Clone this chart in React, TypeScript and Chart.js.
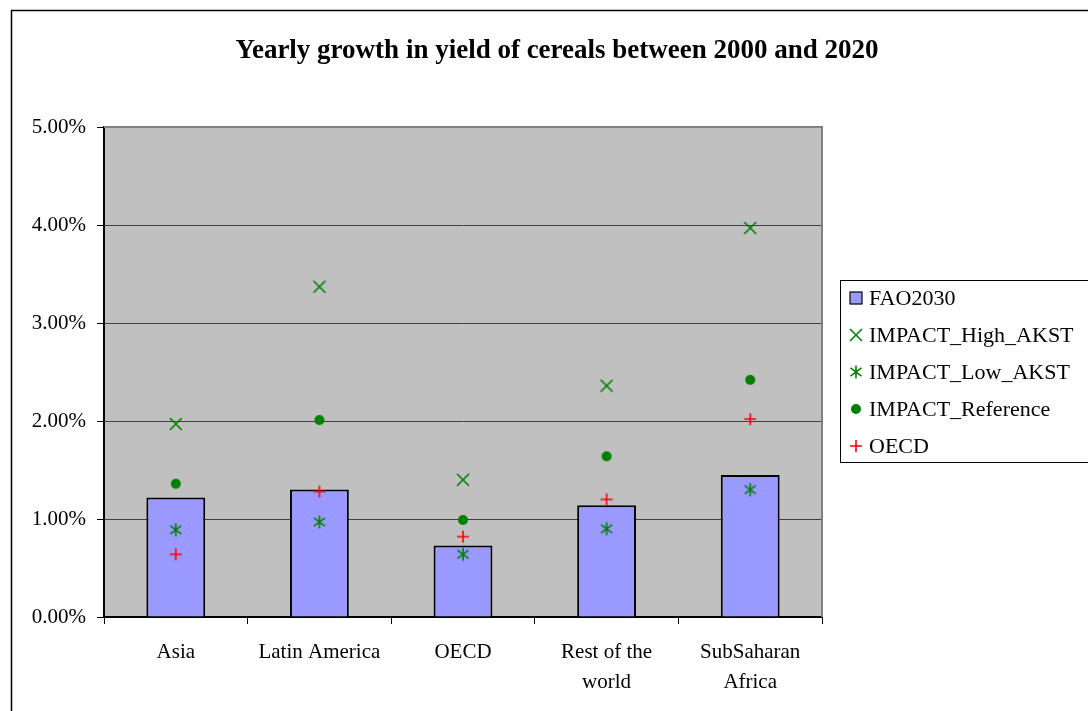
import React, { useEffect, useRef } from "react";
import { Chart, registerables } from "chart.js";

Chart.register(...registerables);

const TITLE = "Yearly growth in yield of cereals between 2000 and 2020";
const categories: (string | string[])[] = [
  "Asia",
  "Latin America",
  "OECD",
  ["Rest of the", "world"],
  ["SubSaharan", "Africa"],
];
const fao2030 = [0.0122, 0.013, 0.0073, 0.0114, 0.0145];
const impactHigh = [0.0197, 0.0337, 0.014, 0.0236, 0.0397];
const impactLow = [0.0089, 0.0097, 0.0064, 0.009, 0.013];
const impactRef = [0.0136, 0.0201, 0.0099, 0.0164, 0.0242];
const oecd = [0.0064, 0.0128, 0.0082, 0.012, 0.0202];
const yTicks = [0, 0.01, 0.02, 0.03, 0.04, 0.05];

const SERIF = "'Liberation Serif', 'Times New Roman', serif";
const GREEN = "#008000";
const RED = "#ff0000";
const BAR_FILL = "#9999ff";

function makeMarker(kind: string): HTMLCanvasElement {
  const s = 16;
  const c = document.createElement("canvas");
  c.width = s;
  c.height = s;
  const g = c.getContext("2d")!;
  const m = s / 2;
  g.lineWidth = 1.6;
  g.lineCap = "butt";
  if (kind === "x") {
    g.strokeStyle = GREEN;
    const d = 6;
    g.beginPath();
    g.moveTo(m - d, m - d);
    g.lineTo(m + d, m + d);
    g.moveTo(m + d, m - d);
    g.lineTo(m - d, m + d);
    g.stroke();
  } else if (kind === "ast") {
    g.strokeStyle = GREEN;
    const d = 5.5;
    g.beginPath();
    g.moveTo(m - d, m - d * 0.75);
    g.lineTo(m + d, m + d * 0.75);
    g.moveTo(m + d, m - d * 0.75);
    g.lineTo(m - d, m + d * 0.75);
    g.moveTo(m, m - 6.5);
    g.lineTo(m, m + 6.5);
    g.stroke();
  } else if (kind === "dot") {
    g.fillStyle = GREEN;
    g.beginPath();
    g.arc(m, m, 5, 0, Math.PI * 2);
    g.fill();
  } else if (kind === "plus") {
    g.strokeStyle = RED;
    const d = 6;
    g.beginPath();
    g.moveTo(m - d, m);
    g.lineTo(m + d, m);
    g.moveTo(m, m - d);
    g.lineTo(m, m + d);
    g.stroke();
  }
  return c;
}

export default function App() {
  const ref = useRef<HTMLCanvasElement | null>(null);

  useEffect(() => {
    const canvas = ref.current;
    if (!canvas) return;
    const markers = {
      x: makeMarker("x"),
      ast: makeMarker("ast"),
      dot: makeMarker("dot"),
      plus: makeMarker("plus"),
    };

    const framePlugin = {
      id: "frame",
      beforeDraw(chart: any) {
        const ctx = chart.ctx;
        const a = chart.chartArea;
        ctx.save();
        ctx.fillStyle = "#ffffff";
        ctx.fillRect(0, 0, chart.width, chart.height);
        ctx.strokeStyle = "#000000";
        ctx.lineWidth = 1.5;
        ctx.strokeRect(11.5, 10.5, chart.width + 20, chart.height + 20);
        ctx.fillStyle = "#c0c0c0";
        ctx.fillRect(a.left, a.top, a.right - a.left, a.bottom - a.top);
        ctx.restore();
      },
      afterDraw(chart: any) {
        const ctx = chart.ctx;
        const a = chart.chartArea;
        ctx.save();
        ctx.strokeStyle = "#808080";
        ctx.lineWidth = 2;
        ctx.beginPath();
        ctx.moveTo(a.left, a.top);
        ctx.lineTo(a.right, a.top);
        ctx.lineTo(a.right, a.bottom);
        ctx.stroke();
        // title
        ctx.fillStyle = "#000000";
        ctx.font = `bold 27px ${SERIF}`;
        ctx.textAlign = "center";
        ctx.textBaseline = "alphabetic";
        ctx.fillText(TITLE, 557, 58);
        // legend
        const lx = 840, ly = 280, lw = 260, lh = 182;
        ctx.fillStyle = "#ffffff";
        ctx.fillRect(lx, ly, lw, lh);
        ctx.strokeStyle = "#000000";
        ctx.lineWidth = 1;
        ctx.strokeRect(lx + 0.5, ly + 0.5, lw, lh);
        const items = chart.data.datasets.map((d: any) => d.label);
        const kinds = ["bar", "x", "ast", "dot", "plus"];
        ctx.font = `22px ${SERIF}`;
        ctx.textAlign = "left";
        ctx.textBaseline = "middle";
        items.forEach((label: string, i: number) => {
          const cy = 298 + i * 37;
          const mx = 856;
          const k = kinds[i];
          if (k === "bar") {
            ctx.fillStyle = BAR_FILL;
            ctx.fillRect(mx - 6, cy - 6, 12, 12);
            ctx.strokeStyle = "#000000";
            ctx.lineWidth = 1.2;
            ctx.strokeRect(mx - 6, cy - 6, 12, 12);
          } else {
            const img = (markers as any)[k];
            ctx.drawImage(img, mx - 8, cy - 8);
          }
          ctx.fillStyle = "#000000";
          ctx.fillText(label, 869, cy + 1);
        });
        ctx.restore();
      },
    };

    const pointDs = (label: string, data: number[], img: HTMLCanvasElement) => ({
      type: "line" as const,
      label,
      data,
      showLine: false,
      pointStyle: img,
      pointRadius: 8,
      pointHoverRadius: 8,
      borderColor: "transparent",
      backgroundColor: "transparent",
    });

    const chart = new Chart(canvas, {
      type: "bar",
      data: {
        labels: categories as any,
        datasets: [
          {
            type: "bar",
            label: "FAO2030",
            data: fao2030,
            backgroundColor: BAR_FILL,
            borderColor: "#000000",
            borderWidth: 2,
            barPercentage: 0.41,
            categoryPercentage: 1,
            order: 2,
          } as any,
          { ...pointDs("IMPACT_High_AKST", impactHigh, markers.x), order: 1 },
          { ...pointDs("IMPACT_Low_AKST", impactLow, markers.ast), order: 1 },
          { ...pointDs("IMPACT_Reference", impactRef, markers.dot), order: 1 },
          { ...pointDs("OECD", oecd, markers.plus), order: 1 },
        ],
      },
      options: {
        animation: false,
        responsive: false,
        maintainAspectRatio: false,
        layout: { padding: { left: 0, top: 127, right: 266, bottom: 0 } },
        plugins: {
          legend: { display: false },
          title: { display: false },
          tooltip: { enabled: false },
        },
        scales: {
          x: {
            offset: true,
            grid: {
              offset: true,
              drawOnChartArea: false,
              drawTicks: true,
              tickLength: 7,
              tickColor: "#000000",
              tickWidth: 1,
            },
            border: { display: true, color: "#000000", width: 2 },
            ticks: {
              color: "#000000",
              font: { family: SERIF, size: 21, lineHeight: 1.43 },
              padding: 13,
              maxRotation: 0,
              autoSkip: false,
            },
            afterFit(scale: any) {
              scale.height = 94;
            },
          },
          y: {
            min: 0,
            max: 0.05,
            afterBuildTicks(scale: any) {
              scale.ticks = yTicks.map((v) => ({ value: v }));
            },
            grid: {
              color: (c: any) => (c.tick && c.tick.value === 0.05 ? "#808080" : "#404040"),
              lineWidth: 1,
              drawTicks: true,
              tickLength: 7,
              tickColor: "#000000",
            },
            border: { display: true, color: "#000000", width: 2 },
            ticks: {
              color: "#000000",
              font: { family: SERIF, size: 21 },
              padding: 11,
              callback: (v: any) => (Number(v) * 100).toFixed(2) + "%",
            },
            afterFit(scale: any) {
              scale.width = 104;
            },
          },
        },
      },
      plugins: [framePlugin],
    });

    return () => chart.destroy();
  }, []);

  return (
    <div style={{ position: "fixed", left: 0, top: 0, width: 1088, height: 711 }}>
      <canvas ref={ref} width={1088} height={711} style={{ display: "block" }} />
    </div>
  );
}
